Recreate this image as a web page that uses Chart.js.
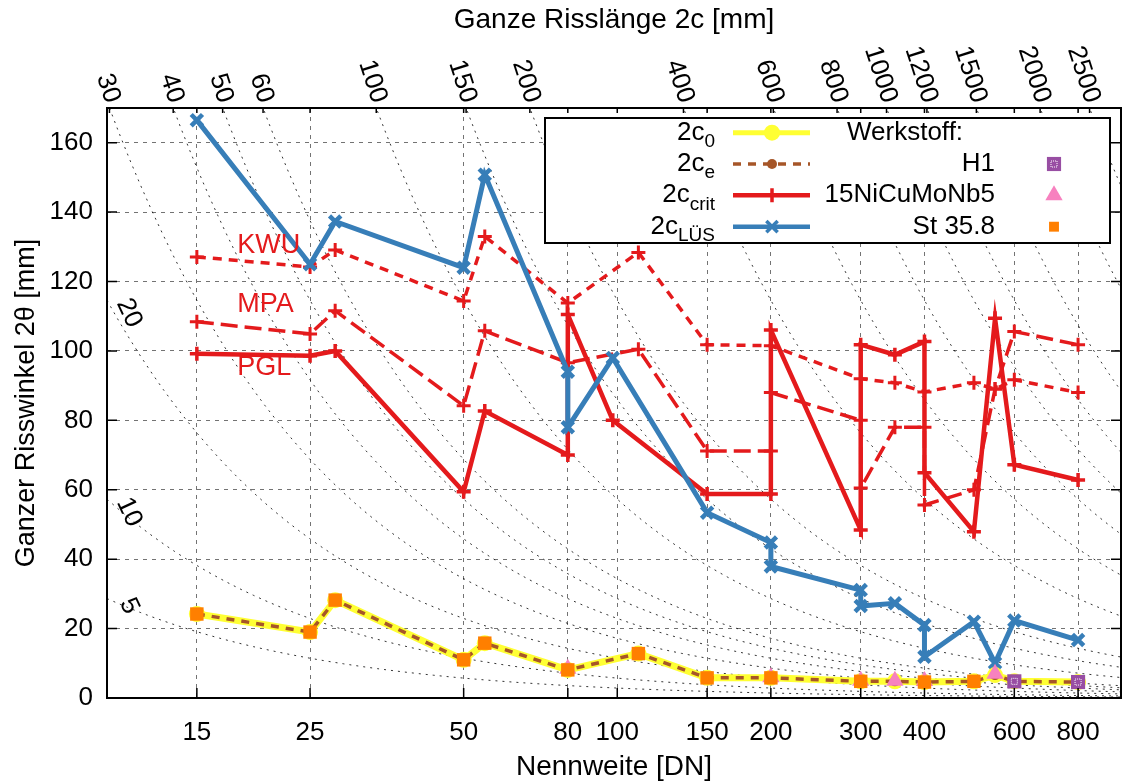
<!DOCTYPE html>
<html>
<head>
<meta charset="utf-8">
<script src="https://cdn.jsdelivr.net/npm/chart.js@4.4.1/dist/chart.umd.min.js"></script>
<style>
  html, body { margin: 0; padding: 0; background: #fff; overflow: hidden; }
  canvas { display: block; }
</style>
</head>
<body>
<canvas id="rissChart" width="1122" height="784"></canvas>
<script>
// Achsen
const dnTicks = [15, 25, 50, 80, 100, 150, 200, 300, 400, 600, 800];
const winkelTicks = [0, 20, 40, 60, 80, 100, 120, 140, 160];

// Linien gleicher Risslänge 2c [mm]
const risslaengen = [5, 10, 20, 30, 40, 50, 60, 100, 150, 200, 400, 600, 800, 1000, 1200, 1500, 2000, 2500];
const risslaengenLinks = [5, 10, 20];

// 2c_LÜS
const lusDN     = [15, 25, 28, 50, 55, 80, 80, 98, 150, 200, 200, 300, 300, 350, 400, 400, 500, 550, 600, 800];
const lusWinkel = [166.5, 125, 137.3, 124, 150.8, 94, 78, 98, 53.4, 44.8, 37.9, 31.1, 26.5, 27.3, 21, 11.9, 22, 10.1, 22.3, 16.7];

// 2c_crit nach PGL, MPA, KWU
const pglDN     = [15, 25, 28, 50, 55, 80, 80, 98, 150, 200, 200, 300, 300, 350, 400, 400, 500, 550, 600, 800];
const pglWinkel = [99.2, 98.6, 100, 59.4, 82.7, 70, 110.5, 80, 58.8, 58.8, 106, 48.4, 101.8, 98.9, 102.7, 64.9, 47.9, 109.4, 67.2, 62.8];
const mpaDN     = [15, 25, 28, 50, 55, 80, 110, 150, 200, 200, 300, 300, 350, 400, 400, 500, 550, 600, 800];
const mpaWinkel = [108.4, 104.9, 111.6, 84.2, 105.8, 96.6, 100.5, 71.2, 71.2, 88, 80, 60.5, 78, 78, 55.6, 60, 89, 105.6, 101.8];
const kwuDN     = [15, 25, 28, 50, 55, 80, 110, 150, 200, 300, 350, 400, 500, 550, 600, 800];
const kwuWinkel = [127.1, 124.2, 129.1, 114.4, 133, 113.8, 128.4, 101.8, 101.5, 92, 90.8, 88.2, 90.8, 89, 91.7, 88];

// 2c_0 und 2c_e
const c0DN     = [15, 25, 28, 50, 55, 80, 110, 150, 200, 300, 350, 400, 500, 550, 600, 800];
const c0Winkel = [24.2, 19, 28.2, 11, 15.8, 8.1, 12.8, 5.8, 5.8, 4.8, 4.8, 4.6, 4.8, 6.6, 4.8, 4.6];
const ceWinkel = [24.2, 19, 28.2, 11, 15.8, 8.1, 12.8, 5.8, 5.8, 4.8, 4.8, 4.6, 4.8, 6.6, 4.8, 4.6];

// Werkstoffe
const h1DN = [600, 800];
const h1Winkel = [4.8, 4.6];
const niDN = [80, 200, 300, 350, 400, 550];
const niWinkel = [8.4, 6.0, 5.0, 5.0, 4.9, 7.0];
const stDN = [15, 25, 28, 50, 55, 80, 110, 150, 200, 300, 400, 500];
const stWinkel = [24.2, 19, 28.2, 11, 15.8, 8.1, 12.8, 5.8, 5.8, 4.8, 4.6, 4.8];

const X_MIN = 10, X_MAX = 971, Y_MAX = 170;
const RECHTS = 1121;   // rechter Rand der Zeichenfläche
const SCHRIFT = '"Liberation Sans", Arial, sans-serif';
const ROT = '#e41a1c', BLAU = '#377eb8', GELB = '#ffff33', BRAUN = '#a65628';
const ORANGE = '#ff7f00', ROSA = '#f781bf', LILA = '#984ea3';

Chart.defaults.font.family = SCHRIFT;

const punkte = (xs, ys) => xs.map((x, i) => ({ x: x, y: ys[i] }));

// 2θ = 2c / (DN/2) in Grad
function isoLinie(L) {
  const k = L * 180 / Math.PI;
  const x0 = Math.max(X_MIN, k / 190);
  const pts = [];
  for (let i = 0; i <= 90; i++) {
    const x = x0 * Math.pow(X_MAX / x0, i / 90);
    pts.push({ x: x, y: k / x });
  }
  return pts;
}

const isoDatasets = risslaengen.map(L => ({
  data: isoLinie(L),
  borderColor: 'rgba(0,0,0,0.8)',
  borderWidth: 1,
  borderDash: [2, 5],
  pointRadius: 0,
  order: 20
}));

const datasets = [
  ...isoDatasets,
  {
    label: 'KWU', data: punkte(kwuDN, kwuWinkel), order: 8,
    borderColor: ROT, borderWidth: 3.5, borderDash: [9, 7],
    pointStyle: 'cross', pointRadius: 7, pointBorderColor: ROT, pointBorderWidth: 3
  },
  {
    label: 'MPA', data: punkte(mpaDN, mpaWinkel), order: 7,
    borderColor: ROT, borderWidth: 3.5, borderDash: [17, 7],
    pointStyle: 'cross', pointRadius: 7, pointBorderColor: ROT, pointBorderWidth: 3
  },
  {
    label: 'PGL', data: punkte(pglDN, pglWinkel), order: 6,
    borderColor: ROT, borderWidth: 4.5,
    pointStyle: 'cross', pointRadius: 7, pointBorderColor: ROT, pointBorderWidth: 3.5
  },
  {
    label: '2c_LÜS', data: punkte(lusDN, lusWinkel), order: 5,
    borderColor: BLAU, borderWidth: 5,
    pointStyle: 'crossRot', pointRadius: 8, pointBorderColor: BLAU, pointBorderWidth: 4.5
  },
  {
    label: '2c_0', data: punkte(c0DN, c0Winkel), order: 4,
    borderColor: GELB, borderWidth: 7,
    pointStyle: 'circle', pointRadius: 8, pointBackgroundColor: GELB, pointBorderColor: GELB, pointBorderWidth: 0
  },
  {
    label: '2c_e', data: punkte(c0DN, ceWinkel), order: 3,
    borderColor: BRAUN, borderWidth: 3.5, borderDash: [8, 7],
    pointStyle: 'circle', pointRadius: 5, pointBackgroundColor: BRAUN, pointBorderColor: BRAUN, pointBorderWidth: 0
  },
  {
    label: '15NiCuMoNb5', data: punkte(niDN, niWinkel), order: 2, showLine: false,
    pointStyle: 'triangle', pointRadius: 10, pointBackgroundColor: ROSA, pointBorderColor: ROSA, pointBorderWidth: 0
  },
  {
    label: 'St 35.8', data: punkte(stDN, stWinkel), order: 1, showLine: false,
    pointStyle: 'rect', pointRadius: 9.5, pointBackgroundColor: ORANGE, pointBorderColor: ORANGE, pointBorderWidth: 0
  },
  {
    label: 'H1', data: punkte(h1DN, h1Winkel), order: 0, showLine: false,
    pointStyle: 'rect', pointRadius: 10, pointBackgroundColor: LILA, pointBorderColor: LILA, pointBorderWidth: 0
  }
];

function textMitIndex(ctx, haupt, index, xRechts, y) {
  const fH = '26px ' + SCHRIFT, fI = '19px ' + SCHRIFT;
  ctx.font = fH; const wH = ctx.measureText(haupt).width;
  ctx.font = fI; const wI = ctx.measureText(index).width;
  ctx.textAlign = 'left';
  ctx.textBaseline = 'middle';
  ctx.font = fH; ctx.fillText(haupt, xRechts - wI - wH, y);
  ctx.font = fI; ctx.fillText(index, xRechts - wI, y + 9);
}

function innenQuadrat(ctx, x, y) {
  ctx.save();
  ctx.strokeStyle = '#fff';
  ctx.lineWidth = 1;
  ctx.setLineDash([1, 1]);
  ctx.strokeRect(x - 3, y - 3, 6, 6);
  ctx.restore();
}

// Zeichenfläche bis an den rechten Rand ziehen
const flaeche = {
  id: 'flaeche',
  afterLayout(chart) {
    const a = chart.chartArea;
    a.right = RECHTS;
    a.width = a.right - a.left;
    const x = chart.scales.x;
    x.right = RECHTS;
    x.width = x.right - x.left;
    x.configure();
  }
};

const deko = {
  id: 'deko',
  afterDatasetsDraw(chart) {
    const ctx = chart.ctx;
    const meta = chart.getDatasetMeta(chart.data.datasets.length - 1);
    meta.data.forEach(p => innenQuadrat(ctx, p.x, p.y));
  },
  afterDraw(chart) {
    const { ctx, chartArea: a, scales: { x, y } } = chart;
    ctx.save();

    // Rahmen und Teilstriche nach innen
    ctx.strokeStyle = '#000';
    ctx.lineWidth = 2;
    ctx.strokeRect(a.left, a.top, a.right - a.left, a.bottom - a.top);
    ctx.lineWidth = 1.5;
    ctx.beginPath();
    winkelTicks.forEach(v => {
      const py = y.getPixelForValue(v);
      ctx.moveTo(a.left, py); ctx.lineTo(a.left + 10, py);
      ctx.moveTo(a.right, py); ctx.lineTo(a.right - 10, py);
    });
    dnTicks.forEach(v => {
      const px = x.getPixelForValue(v);
      ctx.moveTo(px, a.bottom); ctx.lineTo(px, a.bottom - 10);
      ctx.moveTo(px, a.top); ctx.lineTo(px, a.top + 5);
    });
    ctx.stroke();

    // Beschriftung der Risslängen oben
    ctx.fillStyle = '#000';
    ctx.font = '26px ' + SCHRIFT;
    ctx.textAlign = 'right';
    ctx.textBaseline = 'middle';
    risslaengen.forEach(L => {
      if (risslaengenLinks.includes(L)) return;
      const px = x.getPixelForValue(L * 180 / Math.PI / Y_MAX);
      ctx.beginPath();
      ctx.moveTo(px, a.top); ctx.lineTo(px, a.top + 5);
      ctx.stroke();
      ctx.save();
      ctx.translate(px + 3, a.top - 6);
      ctx.rotate(72 * Math.PI / 180);
      ctx.fillText(String(L), 0, 0);
      ctx.restore();
    });

    // Beschriftung links, auf der jeweiligen Linie
    const linksBei = { 5: 10.8, 10: 10.7, 20: 10.33 };
    ctx.textAlign = 'center';
    risslaengenLinks.forEach(L => {
      const dn = linksBei[L];
      const py = y.getPixelForValue(L * 180 / Math.PI / dn);
      ctx.save();
      ctx.translate(a.left + 22, py);
      ctx.rotate(65 * Math.PI / 180);
      ctx.fillText(String(L), 0, 0);
      ctx.restore();
    });

    // Titel oben
    ctx.font = '28px ' + SCHRIFT;
    ctx.textAlign = 'center';
    ctx.fillText('Ganze Risslänge 2c [mm]', (a.left + a.right) / 2, 20);

    // Kennzeichnung der 2c_crit-Kurven
    ctx.fillStyle = ROT;
    ctx.font = '27px ' + SCHRIFT;
    ctx.textAlign = 'left';
    [['KWU', 130.3], ['MPA', 113.3], ['PGL', 95.1]].forEach(([t, w]) => {
      ctx.fillText(t, x.getPixelForValue(18), y.getPixelForValue(w));
    });

    // Legende
    const box = { l: 545, t: 118, r: 1110, b: 243 };
    ctx.fillStyle = '#fff';
    ctx.fillRect(box.l, box.t, box.r - box.l, box.b - box.t);
    ctx.strokeStyle = '#000';
    ctx.lineWidth = 2;
    ctx.strokeRect(box.l, box.t, box.r - box.l, box.b - box.t);

    const zeilen = [132.7, 164, 195.3, 226.7];
    const eintraege = [
      { idx: '0', farbe: GELB, breite: 5, dash: [], stil: 'circle', r: 8, fuellen: true },
      { idx: 'e', farbe: BRAUN, breite: 3.5, dash: [8, 7], stil: 'circle', r: 5, fuellen: true },
      { idx: 'crit', farbe: ROT, breite: 4.5, dash: [], stil: 'cross', r: 7, fuellen: false },
      { idx: 'LÜS', farbe: BLAU, breite: 4.5, dash: [], stil: 'crossRot', r: 8, fuellen: false }
    ];
    eintraege.forEach((e, i) => {
      const ly = zeilen[i];
      ctx.fillStyle = '#000';
      textMitIndex(ctx, '2c', e.idx, 715, ly);
      ctx.strokeStyle = e.farbe;
      ctx.lineWidth = e.breite;
      ctx.setLineDash(e.dash);
      ctx.beginPath();
      ctx.moveTo(733, ly); ctx.lineTo(810, ly);
      ctx.stroke();
      ctx.setLineDash([]);
      ctx.fillStyle = e.farbe;
      ctx.lineWidth = e.fuellen ? 0 : 3.5;
      Chart.helpers.drawPoint(ctx, { pointStyle: e.stil, radius: e.r, rotation: 0, borderWidth: e.fuellen ? 0 : 3.5 }, 772, ly);
    });

    ctx.fillStyle = '#000';
    ctx.font = '26px ' + SCHRIFT;
    ctx.textBaseline = 'middle';
    ctx.textAlign = 'left';
    ctx.fillText('Werkstoff:', 847, zeilen[0]);
    ctx.textAlign = 'right';
    const werkstoffe = [
      { t: 'H1', farbe: LILA, stil: 'rect', r: 10 },
      { t: '15NiCuMoNb5', farbe: ROSA, stil: 'triangle', r: 10 },
      { t: 'St 35.8', farbe: ORANGE, stil: 'rect', r: 7 }
    ];
    werkstoffe.forEach((w, i) => {
      const ly = zeilen[i + 1];
      ctx.fillStyle = '#000';
      ctx.fillText(w.t, 995, ly);
      ctx.fillStyle = w.farbe;
      ctx.strokeStyle = w.farbe;
      Chart.helpers.drawPoint(ctx, { pointStyle: w.stil, radius: w.r, rotation: 0, borderWidth: 0 }, 1054, ly);
      if (i === 0) innenQuadrat(ctx, 1054, ly);
    });

    ctx.restore();
  }
};

new Chart(document.getElementById('rissChart'), {
  type: 'line',
  data: { datasets: datasets },
  options: {
    responsive: false,
    animation: false,
    devicePixelRatio: 1,
    layout: { padding: { top: 108, right: 1, left: 0, bottom: 0 } },
    plugins: { legend: { display: false }, tooltip: { enabled: false } },
    elements: { line: { tension: 0 } },
    scales: {
      x: {
        type: 'logarithmic',
        position: 'bottom',
        min: X_MIN,
        max: X_MAX,
        afterBuildTicks: s => { s.ticks = dnTicks.map(v => ({ value: v })); },
        afterFit: s => { s.height = 86; s.paddingLeft = 0; s.paddingRight = 0; },
        ticks: {
          autoSkip: false, maxRotation: 0, padding: 19, color: '#000',
          font: { size: 26 },
          callback: v => String(v)
        },
        grid: { color: 'rgba(0,0,0,0.55)', lineWidth: 1, drawTicks: false },
        border: { display: false, dash: [4, 5] },
        title: {
          display: true, text: 'Nennweite [DN]', color: '#000',
          font: { size: 28 }, padding: { top: 0, bottom: 0 }
        }
      },
      y: {
        type: 'linear',
        min: 0,
        max: Y_MAX,
        afterBuildTicks: s => { s.ticks = winkelTicks.map(v => ({ value: v })); },
        afterFit: s => { s.width = 107; },
        ticks: { padding: 14, color: '#000', font: { size: 26 } },
        grid: { color: 'rgba(0,0,0,0.55)', lineWidth: 1, drawTicks: false },
        border: { display: false, dash: [4, 5] },
        title: {
          display: true, text: 'Ganzer Risswinkel 2θ [mm]', color: '#000',
          font: { size: 27 }, padding: { top: 10, bottom: 0 }
        }
      }
    }
  },
  plugins: [flaeche, deko]
});
</script>
</body>
</html>
